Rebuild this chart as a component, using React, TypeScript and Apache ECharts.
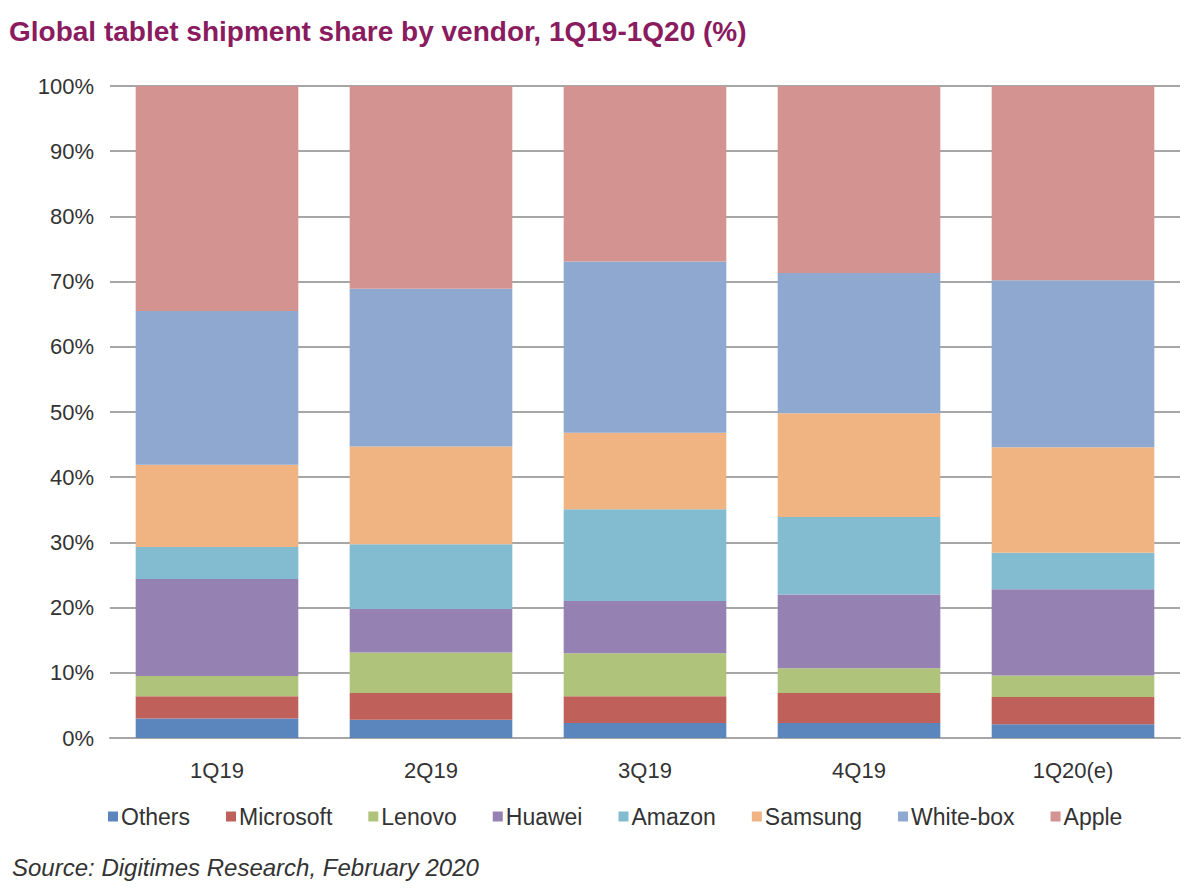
import React, { useEffect, useRef } from "react";
import * as echarts from "echarts";

const categories = ["1Q19", "2Q19", "3Q19", "4Q19", "1Q20(e)"];
const vendors = ["Others", "Microsoft", "Lenovo", "Huawei", "Amazon", "Samsung", "White-box", "Apple"];
const others = [3.0, 2.8, 2.3, 2.3, 2.1];
const microsoft = [3.4, 4.1, 4.1, 4.6, 4.2];
const lenovo = [3.1, 6.2, 6.6, 3.8, 3.3];
const huawei = [14.9, 6.7, 8.0, 11.3, 13.2];
const amazon = [4.9, 9.9, 14.1, 11.9, 5.6];
const samsung = [12.6, 15.0, 11.7, 15.9, 16.2];
const whiteBox = [23.6, 24.2, 26.3, 21.5, 25.6];
const apple = [34.5, 31.1, 26.9, 28.7, 29.8];
const seriesValues = [others, microsoft, lenovo, huawei, amazon, samsung, whiteBox, apple];
const colors = ["#5A85BD", "#C0605A", "#AFC47A", "#9581B2", "#83BCD1", "#EFB482", "#8EA8CF", "#D39391"];
const yTicks = [0, 10, 20, 30, 40, 50, 60, 70, 80, 90, 100];

export default function App() {
  const ref = useRef<HTMLDivElement>(null);
  useEffect(() => {
    if (!ref.current) return;
    const chart = echarts.init(ref.current, null, { renderer: "svg" });
    chart.setOption({
      animation: false,
      backgroundColor: "#ffffff",
      title: {
        text: "Global tablet shipment share by vendor, 1Q19-1Q20 (%)",
        left: 4,
        top: 12,
        textStyle: {
          fontFamily: "'Liberation Sans', Arial, sans-serif",
          fontWeight: "bold",
          fontSize: 28,
          color: "#8A1B5F",
        },
      },
      grid: { left: 110, right: 20, top: 86, bottom: 157, containLabel: false },
      legend: {
        data: vendors,
        bottom: 62,
        left: 103,
        itemWidth: 10,
        itemHeight: 10,
        itemGap: 36,
        icon: "rect",
        textStyle: {
          fontFamily: "'Liberation Sans', Arial, sans-serif",
          fontSize: 23,
          color: "#333333",
          padding: [0, 0, 0, -2],
        },
      },
      xAxis: {
        type: "category",
        data: categories,
        axisTick: { show: false },
        axisLine: { lineStyle: { color: "#A6A6A6", width: 2 } },
        axisLabel: {
          margin: 21,
          fontFamily: "'Liberation Sans', Arial, sans-serif",
          fontSize: 22,
          color: "#333333",
        },
      },
      yAxis: {
        type: "value",
        min: 0,
        max: 100,
        interval: 10,
        axisLine: { show: false },
        axisTick: { show: false },
        axisLabel: {
          margin: 16,
          fontFamily: "'Liberation Sans', Arial, sans-serif",
          fontSize: 22,
          color: "#333333",
          formatter: (v: number) => (yTicks.includes(v) ? v + "%" : ""),
        },
        splitLine: { lineStyle: { color: "#A6A6A6", width: 2 } },
      },
      series: vendors.map((name, i) => ({
        name,
        type: "bar",
        stack: "total",
        barCategoryGap: "24%",
        data: seriesValues[i],
        itemStyle: { color: colors[i] },
      })),
      graphic: [
        {
          type: "text",
          left: 12,
          top: 855,
          style: {
            text: "Source: Digitimes Research, February 2020",
            fontFamily: "'Liberation Sans', Arial, sans-serif",
            fontStyle: "italic",
            fontSize: 24,
            fill: "#333333",
          },
        },
      ],
    });
    return () => chart.dispose();
  }, []);
  return <div ref={ref} style={{ width: 1200, height: 895, position: "absolute", left: 0, top: 0 }} />;
}
